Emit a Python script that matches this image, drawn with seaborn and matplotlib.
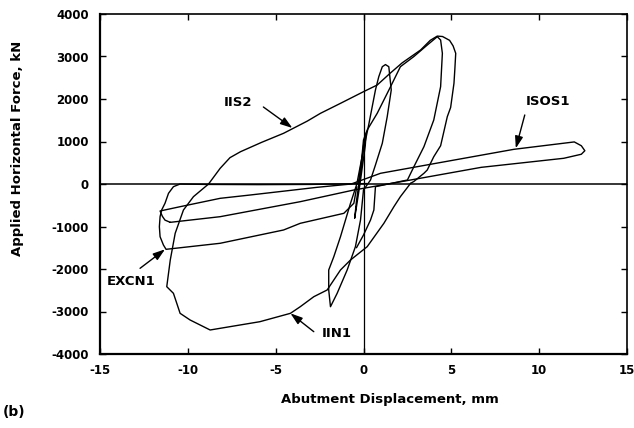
import numpy as np
import pandas as pd
import matplotlib
matplotlib.use("Agg")
import matplotlib.pyplot as plt
import seaborn as sns

# ---------------- data ----------------
# IIS2: upper half of the large loop including the peak at ~ +3500 kN
iis2_x = [-8.82, -8.16, -7.6, -7.0, -5.8, -4.55, -3.2, -2.45, -1.31, 0.0, 0.78, 1.5, 2.2,
          3.25, 3.8, 4.2, 4.5, 4.9, 5.1, 5.25, 5.2, 5.15, 4.96, 4.77, 4.39, 4.0, 3.63, 3.44,
          2.87, 2.68]
iis2_y = [0, 369, 620, 760, 980, 1193, 1480, 1663, 1898, 2172, 2329, 2600, 2850,
          3153, 3380, 3480, 3470, 3380, 3250, 3075, 2700, 2370, 1800, 1584, 900, 642, 330, 252,
          60, 16]
# inner ascending / descending branch of the same peak cycle
iis2b_x = [-0.3, -0.1, 0.0, 0.21, 0.78, 1.54, 2.1, 2.87, 3.63, 4.2, 4.39, 4.49, 4.39, 4.0,
           3.44, 2.87, 2.5, 0.68, 0.59, 0.4, 0.0, -0.4]
iis2b_y = [0, 600, 1035, 1270, 1663, 2290, 2760, 3000, 3270, 3466, 3388, 3075, 2290, 1506,
           878, 408, 94, -63, -612, -847, -1200, -1500]
# IIN1: lower half of the large loop
iin1_x = [2.68, 2.1, 1.73, 1.16, 0.21, -0.74, -1.31, -2.07, -2.83, -3.6, -4.16, -5.9, -7.5,
          -8.73, -9.87, -10.44, -10.63, -10.82, -11.2, -11.0, -10.72, -10.25, -9.68, -8.82]
iin1_y = [16, -298, -534, -925, -1475, -1788, -2023, -2494, -2652, -2887, -3043, -3240, -3350,
          -3435, -3200, -3043, -2807, -2572, -2416, -1788, -1160, -612, -298, 0]
# steep inner cycles near the origin
steep_x = [0.0, -0.17, -0.46, -0.93, -1.5, -1.88, -1.98, -1.98, -1.69, -1.31, -0.74, -0.38,
           -0.1, 0.3, 0.68, 0.87, 1.07, 1.25, 1.44, 1.58, 1.35, 1.07, 0.68, 0.4, 0.0]
steep_y = [-141, -847, -1475, -2023, -2572, -2887, -2494, -2023, -1710, -1240, -454, 0,
           600, 1400, 2212, 2525, 2760, 2810, 2760, 2212, 1584, 958, 447, 94, -141]
small_x = [-0.5, -0.2, 0.1, 0.15, 0.0, -0.2, -0.4, -0.5]
small_y = [-800, 0, 900, 1200, 900, 200, -400, -800]
# ISOS1: slender loop
isos1_x = [-11.0, -8.16, -3.6, -0.55, 2.68, 6.7, 11.4, 12.4, 12.6, 12.4, 12.0, 8.56, 2.85,
           0.97, -0.7, -2.64, -6.45, -8.16, -10.44, -11.58, -11.45, -11.3, -11.0]
isos1_y = [-902, -769, -416, -141, 94, 392, 605, 700, 783, 900, 990, 816, 392,
           252, 0, -78, -259, -337, -534, -635, -760, -850, -902]
# EXCN1: one-sided loop on the negative side
excn1_x = [0.2, -3.0, -6.0, -9.0, -10.44, -10.82, -11.1, -11.3, -11.49, -11.58, -11.62,
           -11.58, -11.39, -11.24, -8.16, -4.55, -3.6, -1.12, -0.55, -0.38]
excn1_y = [10, -10, -15, -10, 0, -63, -219, -454, -612, -769, -1004,
           -1240, -1435, -1537, -1395, -1082, -925, -690, -454, -63]

x_ticks = [-15, -10, -5, 0, 5, 10, 15]
y_ticks = [-4000, -3000, -2000, -1000, 0, 1000, 2000, 3000, 4000]

labels = ["IIS2", "ISOS1", "EXCN1", "IIN1"]
label_xy = [(-7.13, 1906), (10.5, 1937), (-13.2, -2298), (-1.5, -3513)]
arrow_start = [(-5.7, 1812), (9.18, 1624), (-12.72, -1984), (-2.83, -3475)]
arrow_end = [(-4.05, 1318), (8.67, 840), (-11.3, -1537), (-4.16, -3043)]

# ---------------- build table ----------------
curves = {
    "IIS2": (iis2_x, iis2_y),
    "IIS2b": (iis2b_x, iis2b_y),
    "IIN1": (iin1_x, iin1_y),
    "steep": (steep_x, steep_y),
    "small": (small_x, small_y),
    "ISOS1": (isos1_x, isos1_y),
    "EXCN1": (excn1_x, excn1_y),
}
rows = []
for name, (xs, ys) in curves.items():
    for i, (a, b) in enumerate(zip(xs, ys)):
        rows.append({"seg": name, "order": i, "x": a, "y": b})
df = pd.DataFrame(rows)

# ---------------- style ----------------
sns.set_theme(style="ticks")
plt.rcParams["font.family"] = ["DejaVu Sans"]
plt.rcParams["font.weight"] = "bold"
plt.rcParams["axes.unicode_minus"] = False
plt.rcParams["text.color"] = "black"
plt.rcParams["axes.labelcolor"] = "black"
plt.rcParams["xtick.color"] = "black"
plt.rcParams["ytick.color"] = "black"

fig = plt.figure(figsize=(6.34, 4.28), dpi=100)
ax = fig.add_axes([100 / 634, 1 - 354 / 428, 527 / 634, 340 / 428])

sns.lineplot(data=df, x="x", y="y", units="seg", estimator=None, sort=False,
             color="black", lw=1.0, ax=ax, legend=False)

ax.axhline(0, color="black", lw=1.1, zorder=1)
ax.axvline(0, color="black", lw=0.9, zorder=1)

ax.set_xlim(-15, 15)
ax.set_ylim(-4000, 4000)
ax.set_xticks(x_ticks)
ax.set_yticks(y_ticks)
ax.set_xticklabels([str(t) for t in x_ticks], fontsize=8.5, fontweight="bold", color="black")
ax.set_yticklabels([str(t) for t in y_ticks], fontsize=8.5, fontweight="bold", color="black")
ax.tick_params(direction="in", length=4, width=1, top=True, right=True,
               labeltop=False, labelright=False, colors="black")
ax.tick_params(axis="x", pad=7)
ax.tick_params(axis="y", pad=8)
for side, sp in ax.spines.items():
    sp.set_color("black")
    sp.set_linewidth(1.6 if side in ("left", "bottom") else 1.2)

ax.set_xlabel("")
ax.set_ylabel("")
fig.text(390 / 634, 1 - 400 / 428, "Abutment Displacement, mm", ha="center", va="center",
         fontsize=9.5, fontweight="bold", color="black")
fig.text(18 / 634, 1 - 148 / 428, "Applied Horizontal Force, kN", ha="center", va="center",
         rotation=90, fontsize=9.5, fontweight="bold", color="black")
fig.text(14 / 634, 1 - 412 / 428, "(b)", ha="center", va="center",
         fontsize=10, fontweight="bold", color="black")

for lab, lxy, s, e in zip(labels, label_xy, arrow_start, arrow_end):
    ax.text(lxy[0], lxy[1], lab, ha="center", va="center", fontsize=9.5,
            fontweight="bold", color="black")
    ax.annotate("", xy=e, xytext=s,
                arrowprops=dict(arrowstyle="-|>,head_length=0.6,head_width=0.2",
                                color="black", lw=1.0, shrinkA=0, shrinkB=0))

fig.savefig("out.png", dpi=100)
